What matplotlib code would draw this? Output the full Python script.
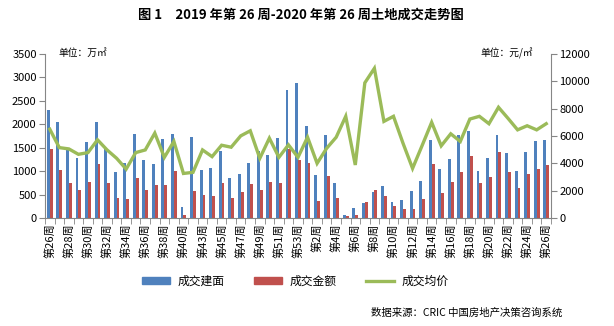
import matplotlib
matplotlib.use("Agg")
import matplotlib.pyplot as plt
from matplotlib.patches import Patch
from matplotlib.lines import Line2D
import numpy as np

plt.rcParams['font.family'] = ['Noto Sans CJK SC', 'DejaVu Sans']

weeks = ([f"第{w}周" for w in range(26, 41)] + [f"第{w}周" for w in range(42, 54)]
         + [f"第{w}周" for w in range(1, 27)])

area = [2300, 2050, 1450, 1280, 1615, 2050, 1465, 975, 1166, 1785, 1230, 1145, 1680,
        1785, 228, 1720, 1017, 1060, 1422, 846, 932, 1166, 1422, 1337, 1700, 2724, 2881,
        1956, 910, 1764, 740, 60, 206, 320, 548, 676, 334, 377, 569,
        782, 1657, 1038, 1252, 1764, 1849, 996, 1273, 1764, 1380, 996, 1401, 1636, 1657]
amount = [1470, 1017, 740, 590, 761, 1145, 740, 427, 398, 853, 590, 697, 697,
          1003, 64, 569, 484, 469, 740, 420, 548, 718, 590, 761, 740, 1465, 1231,
          1166, 356, 889, 420, 40, 64, 341, 590, 469, 256, 185, 185,
          398, 1145, 526, 761, 974, 1316, 740, 868, 1401, 974, 633, 932, 1038, 1124]
price = [6500, 5150, 5055, 4660, 4785, 5720, 4980, 4370, 3580, 4785, 4980, 6210, 4440,
         5600, 3260, 3340, 4980, 4490, 5325, 5180, 6010, 6380, 4370, 5840, 4440, 5350, 4440,
         5910, 4000, 5100, 5910, 7440, 3880, 9890, 10950, 7070, 7440, 5470, 3630,
         5300, 7000, 5280, 6160, 5600, 7240, 7440, 6900, 8100, 7290, 6450, 6750, 6450, 6900]

blue = '#4F81BD'
red = '#C0504D'
green = '#9BBB59'
grey = '#868686'

fig = plt.figure(figsize=(6.14, 3.26), dpi=100)
ax = fig.add_axes([45/614, 1-218/326, 506/614, 164/326])
ax2 = ax.twinx()

x = np.arange(len(weeks))
w = 0.3
ax.bar(x - w/2, area, width=w, color=blue, zorder=2)
ax.bar(x + w/2, amount, width=w, color=red, zorder=2)
ax2.plot(x, price, color=green, lw=2.4, solid_joinstyle='miter', zorder=3)

ax.set_xlim(-0.5, len(weeks) - 0.5)
ax.set_ylim(0, 3500)
ax.set_yticks(np.arange(0, 3501, 500))
ax2.set_ylim(0, 12000)
ax2.set_yticks(np.arange(0, 12001, 2000))

ax.set_xticks(x[::2])
ax.set_xticklabels(weeks[::2], rotation=90, fontsize=8)
ax.set_xticks(np.arange(-0.5, len(weeks), 1), minor=True)
ax.tick_params(axis='x', which='major', length=0, pad=4)
ax.tick_params(axis='x', which='minor', length=4, color=grey, direction='out')
ax.tick_params(axis='y', length=4, color=grey, labelsize=8, pad=2)
ax2.tick_params(axis='y', length=4, color=grey, labelsize=8, pad=2)

for a in (ax, ax2):
    a.spines['top'].set_visible(False)
    for s in ('left', 'right', 'bottom'):
        a.spines[s].set_color(grey)
ax.spines['right'].set_visible(False)
ax2.spines['left'].set_visible(False)
ax2.spines['bottom'].set_visible(False)

fig.text(0.49, 1-15/326, "图 1　2019 年第 26 周-2020 年第 26 周土地成交走势图",
         ha='center', va='center', fontsize=9.5, fontweight='bold')
fig.text(58/614, 1-53/326, "单位：万㎡", ha='left', va='center', fontsize=7)
fig.text(533/614, 1-53/326, "单位：元/㎡", ha='right', va='center', fontsize=7)

handles = [Patch(color=blue), Patch(color=red), Line2D([], [], color=green, lw=2.4)]
fig.legend(handles, ['成交建面', '成交金额', '成交均价'], loc='center',
           bbox_to_anchor=(295/614, 1-281/326), ncol=3, frameon=False, fontsize=8.5,
           handlelength=2.4, handleheight=0.6, columnspacing=2.5, handletextpad=0.6)
fig.text(562/614, 1-313/326, "数据来源：CRIC 中国房地产决策咨询系统", ha='right',
         va='center', fontsize=7.5)

fig.savefig('out.png', dpi=100)
